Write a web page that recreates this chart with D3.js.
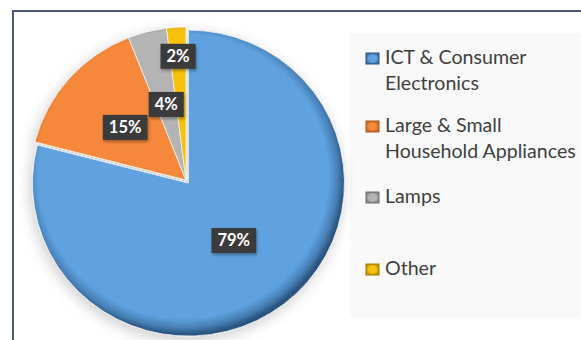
<!DOCTYPE html>
<html>
<head>
<meta charset="utf-8">
<script src="https://cdn.jsdelivr.net/npm/d3@7/dist/d3.min.js"></script>
<style>
  html, body { margin: 0; padding: 0; background: #ffffff; }
  svg { display: block; }
</style>
</head>
<body>
<svg id="chart" width="581" height="340"></svg>
<script>
// Share of e-waste by product group (percent)
const categories = ["ICT & Consumer Electronics", "Large & Small Household Appliances", "Lamps", "Other"];
const legendLines = [["ICT & Consumer", "Electronics"], ["Large & Small", "Household Appliances"], ["Lamps"], ["Other"]];
const shares = [79, 15, 4, 2];
const sliceColors = ["#5fa2df", "#f5883a", "#b4b4b4", "#f7c110"];
const rimColors = ["#2a5480", "#a8561c", "#6d6d6d", "#a07a00"];

const W = 581, H = 340;
const svg = d3.select("#chart");
const defs = svg.append("defs");

// Page frame (open at the right and bottom edges)
svg.append("path")
  .attr("d", `M13,${H + 2} L13,11 L${W + 2},11`)
  .attr("fill", "none")
  .attr("stroke", "#4b5678")
  .attr("stroke-width", 2);

// Legend panel
svg.append("rect")
  .attr("x", 350).attr("y", 33).attr("width", 240).attr("height", 285)
  .attr("fill", "#f9f9f9");

// Soft shadow under the pie
const shadow = defs.append("filter").attr("id", "pieShadow")
  .attr("x", "-20%").attr("y", "-20%").attr("width", "140%").attr("height", "140%");
shadow.append("feDropShadow")
  .attr("dx", -2).attr("dy", 4).attr("stdDeviation", 7)
  .attr("flood-color", "#000").attr("flood-opacity", 0.2);

const boxShadow = defs.append("filter").attr("id", "boxShadow")
  .attr("x", "-30%").attr("y", "-30%").attr("width", "160%").attr("height", "160%");
boxShadow.append("feDropShadow")
  .attr("dx", 1).attr("dy", 2).attr("stdDeviation", 1.5)
  .attr("flood-color", "#000").attr("flood-opacity", 0.35);

const cx = 186, cy = 180, rx = 156, ry = 153;
const R = rx;

// Bevelled fill for each slice: flat colour with a darkened rim
sliceColors.forEach((c, i) => {
  const g = defs.append("radialGradient")
    .attr("id", "slice" + i)
    .attr("gradientUnits", "userSpaceOnUse")
    .attr("cx", -5).attr("cy", -7).attr("r", R + 5);
  g.append("stop").attr("offset", 0).attr("stop-color", c);
  g.append("stop").attr("offset", 0.9).attr("stop-color", c);
  g.append("stop").attr("offset", 0.96).attr("stop-color", d3.interpolateRgb(c, rimColors[i])(0.45));
  g.append("stop").attr("offset", 1).attr("stop-color", rimColors[i]);
});

const pie = d3.pie().sort(null).value(d => d);
const arcs = pie(shares);
const arc = d3.arc().innerRadius(0).outerRadius(R);

const pieG = svg.append("g")
  .attr("transform", `translate(${cx},${cy}) scale(1,${ry / rx})`)
  .attr("filter", "url(#pieShadow)");

// The largest slice is pulled out slightly
const explode = [4, 0, 0, 0];

pieG.selectAll("path.slice")
  .data(arcs)
  .join("path")
  .attr("class", "slice")
  .attr("transform", (d, i) => {
    const a = (d.startAngle + d.endAngle) / 2;
    return `translate(${Math.sin(a) * explode[i]},${-Math.cos(a) * explode[i]})`;
  })
  .attr("d", arc)
  .attr("fill", (d, i) => `url(#slice${i})`)
  .attr("stroke", "#f2f2f2")
  .attr("stroke-width", 0.8);

// Data labels: dark boxes with white percentages
const labelRadius = [0.5, 0.52, 0.51, 0.81];
const labelG = svg.append("g");
arcs.forEach((d, i) => {
  const a = (d.startAngle + d.endAngle) / 2;
  const lx = cx + Math.sin(a) * R * labelRadius[i];
  const ly = cy - Math.cos(a) * ry * labelRadius[i];
  const g = labelG.append("g").attr("transform", `translate(${lx},${ly})`);
  const box = g.append("rect").attr("fill", "#3a3a3a").attr("filter", "url(#boxShadow)");
  const t = g.append("text")
    .attr("text-anchor", "middle")
    .attr("dy", "0.36em")
    .attr("fill", "#ffffff")
    .attr("font-family", "Lato, 'Open Sans', sans-serif")
    .attr("font-weight", "bold")
    .attr("font-size", 16.5)
    .text(shares[i] + "%");
  const w = t.node().getComputedTextLength();
  box.attr("x", -w / 2 - 6).attr("y", -12.5).attr("width", w + 12).attr("height", 25);
});

// Legend
const legendTop = [64, 132, 203, 275];
const lineGap = 26;
const legend = svg.append("g");
categories.forEach((name, i) => {
  const g = legend.append("g").attr("transform", `translate(366,${legendTop[i]})`);
  const mg = defs.append("radialGradient").attr("id", "mark" + i);
  mg.append("stop").attr("offset", 0).attr("stop-color", sliceColors[i]);
  mg.append("stop").attr("offset", 0.6).attr("stop-color", sliceColors[i]);
  mg.append("stop").attr("offset", 1).attr("stop-color", d3.interpolateRgb(sliceColors[i], rimColors[i])(0.6));
  g.append("rect")
    .attr("x", 0).attr("y", -11).attr("width", 13).attr("height", 11)
    .attr("fill", `url(#mark${i})`)
    .attr("stroke", rimColors[i]).attr("stroke-width", 1);
  const txt = g.append("text")
    .attr("x", 19)
    .attr("fill", "#404040")
    .attr("font-family", "Lato, 'Open Sans', sans-serif")
    .attr("font-size", 19.6);
  legendLines[i].forEach((line, j) => {
    txt.append("tspan").attr("x", 19).attr("y", j * lineGap).text(line);
  });
});
</script>
</body>
</html>
